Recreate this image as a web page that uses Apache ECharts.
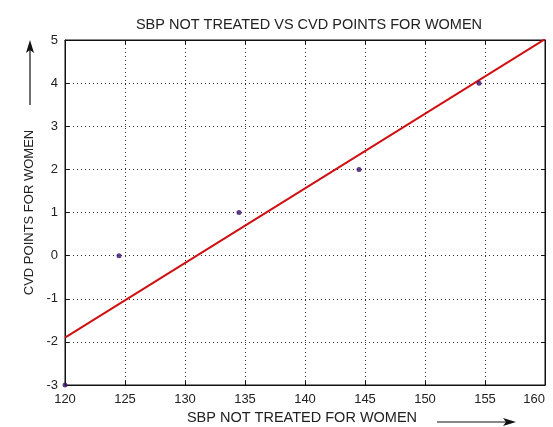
<!DOCTYPE html>
<html>
<head>
<meta charset="utf-8">
<script src="https://cdn.jsdelivr.net/npm/echarts@6/dist/echarts.min.js"></script>
<style>
  html, body { margin: 0; padding: 0; background: #fff; }
  #main { width: 553px; height: 427px; }
</style>
</head>
<body>
<div id="main"></div>
<script>
// data
var sbp = [120, 124.5, 134.5, 144.5, 154.5];
var cvdPoints = [-3, 0, 1, 2, 4];
// fitted line end points
var fitX = [120, 160];
var fitY = [-1.9, 5.02];

var titleText = 'SBP NOT TREATED VS CVD POINTS FOR WOMEN';
var xName = 'SBP NOT TREATED FOR WOMEN';
var yName = 'CVD POINTS FOR WOMEN';

var chart = echarts.init(document.getElementById('main'));

var font = 'Liberation Sans, Arial, sans-serif';
var gridLine = { show: true, lineStyle: { type: [1, 3], color: '#333', width: 1 } };
var axLine = { show: true, onZero: false, lineStyle: { color: '#111' } };
var tick = { inside: true, length: 4, lineStyle: { color: '#111' } };

var option = {
  backgroundColor: '#fff',
  animation: false,
  title: {
    text: titleText,
    left: 304,
    top: 12,
    textAlign: 'center',
    textStyle: { fontFamily: font, fontSize: 14.5, fontWeight: 'normal', color: '#222' }
  },
  grid: {
    left: 65, right: 8, top: 40, bottom: 42,
    outerBoundsMode: 'none',
    show: true, borderColor: '#111', borderWidth: 1
  },
  xAxis: [
    {
      type: 'value', min: 120, max: 160, interval: 5,
      name: xName, nameLocation: 'middle', nameGap: 25,
      nameTextStyle: { fontFamily: font, fontSize: 14.5, color: '#222', padding: [0, 6, 0, 0] },
      axisLine: axLine,
      axisTick: tick,
      axisLabel: { fontFamily: font, fontSize: 13, color: '#222', margin: 8, alignMaxLabel: 'right' },
      splitLine: gridLine
    },
    {
      type: 'value', min: 120, max: 160, interval: 5, position: 'top',
      axisLine: axLine,
      axisTick: tick,
      axisLabel: { show: false },
      splitLine: { show: false }
    }
  ],
  yAxis: [
    {
      type: 'value', min: -3, max: 5, interval: 1,
      name: yName, nameLocation: 'middle', nameGap: 27,
      nameTextStyle: { fontFamily: font, fontSize: 13, color: '#222' },
      axisLine: axLine,
      axisTick: tick,
      axisLabel: { fontFamily: font, fontSize: 13, color: '#222', margin: 7 },
      splitLine: gridLine
    },
    {
      type: 'value', min: -3, max: 5, interval: 1, position: 'right',
      axisLine: axLine,
      axisTick: tick,
      axisLabel: { show: false },
      splitLine: { show: false }
    }
  ],
  series: [
    {
      type: 'line',
      data: fitX.map(function (x, i) { return [x, fitY[i]]; }),
      showSymbol: false,
      clip: true,
      lineStyle: { color: '#d01010', width: 2 },
      z: 3
    },
    {
      type: 'scatter',
      data: sbp.map(function (x, i) { return [x, cvdPoints[i]]; }),
      symbol: 'circle',
      symbolSize: 5,
      itemStyle: { color: '#3a0c6a' },
      clip: false,
      z: 4
    }
  ],
  graphic: [
    // arrow beside the y axis name
    { type: 'line', shape: { x1: 30, y1: 105, x2: 30, y2: 49 }, style: { stroke: '#111', lineWidth: 1.2 } },
    { type: 'polygon', shape: { points: [[30, 40], [26, 53], [30, 50], [34, 53]] }, style: { fill: '#111' } },
    // arrow after the x axis name
    { type: 'line', shape: { x1: 437, y1: 422, x2: 506, y2: 422 }, style: { stroke: '#111', lineWidth: 1.2 } },
    { type: 'polygon', shape: { points: [[516, 422], [503, 418], [506, 422], [503, 426]] }, style: { fill: '#111' } }
  ]
};

chart.setOption(option);
</script>
</body>
</html>
